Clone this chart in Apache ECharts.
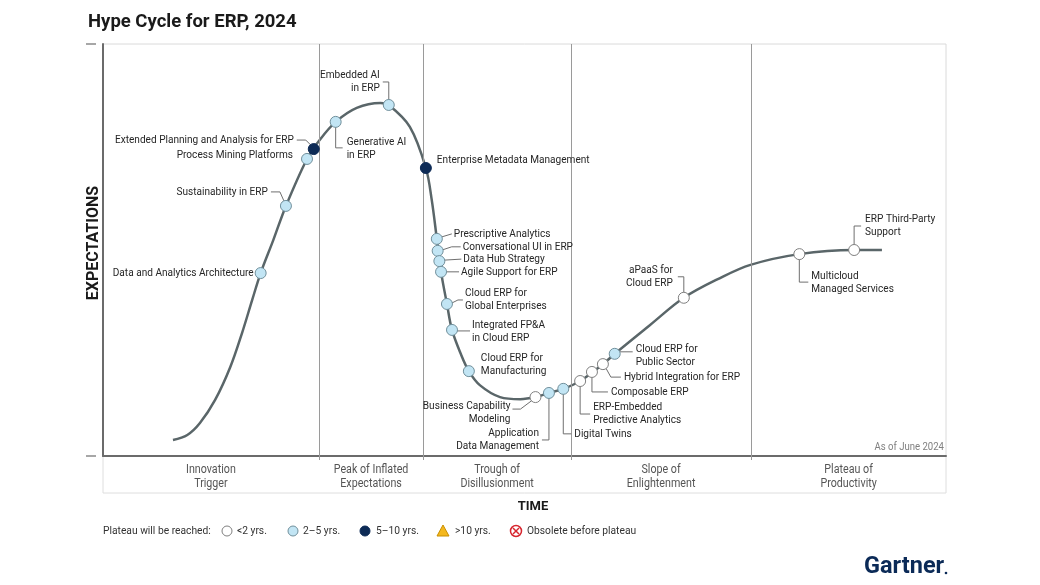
<!DOCTYPE html>
<html><head><meta charset="utf-8">
<script src="https://cdn.jsdelivr.net/npm/echarts@6/dist/echarts.min.js"></script>
<style>html,body{margin:0;padding:0;background:#fff}#c{width:1040px;height:585px}</style>
</head><body><div id="c"></div>
<script>
// ---------------- DATA ----------------
// Hype-cycle curve (x: time 0-100, y: expectations 0-100)
const curveX = [8.3, 10.0, 11.5, 13.3, 15.1, 16.5, 17.7, 18.7, 20.2, 21.7, 24.2, 25.7, 27.6, 30.1, 32.9, 33.9, 36.4, 38.3, 39.0, 39.6, 40.1, 40.8, 41.4, 42.4, 43.4, 44.7, 47.1, 49.5, 51.3, 52.9, 54.6, 56.6, 59.3, 60.7, 64.9, 68.9, 73.2, 76.8, 82.6, 89.1, 92.4];
const curveY = [3.9, 5.1, 8.0, 13.6, 21.6, 29.9, 37.9, 44.4, 52.4, 60.7, 72.1, 76.7, 81.1, 84.5, 85.7, 85.2, 79.9, 69.9, 62.1, 52.7, 44.7, 36.9, 30.6, 25.0, 20.6, 17.2, 14.3, 13.8, 14.3, 15.3, 16.3, 18.2, 22.3, 24.8, 31.8, 38.4, 43.2, 46.4, 49.0, 50.0, 50.0];

// Technologies on the curve
const techNames = [
  'Data and Analytics Architecture',
  'Sustainability in ERP',
  'Process Mining Platforms',
  'Extended Planning and Analysis for ERP',
  'Generative AI\nin ERP',
  'Embedded AI\nin ERP',
  'Enterprise Metadata Management',
  'Prescriptive Analytics',
  'Conversational UI in ERP',
  'Data Hub Strategy',
  'Agile Support for ERP',
  'Cloud ERP for\nGlobal Enterprises',
  'Integrated FP&A\nin Cloud ERP',
  'Cloud ERP for\nManufacturing',
  'Business Capability\nModeling',
  'Application\nData Management',
  'Digital Twins',
  'ERP-Embedded\nPredictive Analytics',
  'Composable ERP',
  'Hybrid Integration for ERP',
  'Cloud ERP for\nPublic Sector',
  'aPaaS for\nCloud ERP',
  'Multicloud\nManaged Services',
  'ERP Third-Party\nSupport'
];
const techX = [18.7, 21.7, 24.2, 25.0, 27.6, 33.9, 38.3, 39.6, 39.7, 39.9, 40.1, 40.8, 41.4, 43.4, 51.3, 52.9, 54.6, 56.6, 58.0, 59.3, 60.7, 68.9, 82.6, 89.1];
const techY = [44.4, 60.7, 72.1, 74.5, 81.1, 85.2, 69.9, 52.7, 49.8, 47.3, 44.7, 36.9, 30.6, 20.6, 14.3, 15.3, 16.3, 18.2, 20.4, 22.3, 24.8, 38.4, 49.0, 50.0];
// years to plateau: 'a' <2 yrs, 'b' 2-5 yrs, 'c' 5-10 yrs
const techPlateau = ['b','b','b','c','b','b','c','b','b','b','b','b','b','b','a','b','b','a','a','a','b','a','a','a'];

// Phases along the time axis
const phaseNames = ['Innovation\nTrigger', 'Peak of Inflated\nExpectations', 'Trough of\nDisillusionment', 'Slope of\nEnlightenment', 'Plateau of\nProductivity'];
const phaseBounds = [0, 25.6, 38.0, 55.5, 76.9, 100];

// Legend
const legendTitle = 'Plateau will be reached:';
const legendLabels = ['<2 yrs.', '2–5 yrs.', '5–10 yrs.', '>10 yrs.', 'Obsolete before plateau'];

// ---------------- LAYOUT (label offsets in px relative to each dot) ----------------
const labelLayout = [
  {tx:-7,  ty:0,   al:'right'},
  {tx:-18, ty:-14, al:'right', ln:[[-15,-14],[-6,-14],[-2,-5]]},
  {tx:-14, ty:-4,  al:'right'},
  {tx:-20, ty:-9,  al:'right', ln:[[-17,-9],[-8,-9],[-3,-4]]},
  {tx:11,  ty:27,  al:'left',  ln:[[0,5],[0,26],[7,26]]},
  {tx:-9,  ty:-23, al:'right', ln:[[0,-5],[0,-23],[-6,-23]]},
  {tx:11,  ty:-8,  al:'left'},
  {tx:17,  ty:-5,  al:'left',  ln:[[5,-2],[15,-5]]},
  {tx:25,  ty:-4,  al:'left',  ln:[[5,-1],[14,-4],[23,-4]]},
  {tx:24,  ty:-2,  al:'left',  ln:[[5,-1],[22,-2]]},
  {tx:20,  ty:0,   al:'left',  ln:[[5,0],[18,0]]},
  {tx:18,  ty:-4,  al:'left',  ln:[[5,-1],[11,-4],[16,-4]]},
  {tx:20,  ty:2,   al:'left',  ln:[[5,1],[18,1]]},
  {tx:12,  ty:-7,  al:'left'},
  {tx:-25, ty:16,  al:'right', ln:[[-3,3],[-15,12],[-23,12]]},
  {tx:-10, ty:47,  al:'right', ln:[[0,5],[0,47],[-7,47]]},
  {tx:11,  ty:45,  al:'left',  ln:[[0,5],[0,45],[8,45]]},
  {tx:13,  ty:33,  al:'left',  ln:[[0,5],[0,33],[10,33]]},
  {tx:19,  ty:20,  al:'left',  ln:[[0,5],[0,20],[16,20]]},
  {tx:21,  ty:13,  al:'left',  ln:[[3,4],[8,13],[18,13]]},
  {tx:21,  ty:2,   al:'left',  ln:[[5,-2],[18,-2]]},
  {tx:-11, ty:-21, al:'right', ln:[[0,-5],[0,-21],[-6,-21]]},
  {tx:12,  ty:28,  al:'left',  ln:[[0,5],[0,28],[9,28]]},
  {tx:11,  ty:-24, al:'left',  ln:[[0,-5],[0,-24],[7,-24]]}
];

const FONT = 'Roboto, sans-serif';
const SX = 0.87;   // horizontal condensing of small text
const dotStyle = {
  a: {fill:'#ffffff', stroke:'#808080'},
  b: {fill:'#c2e5f4', stroke:'#71909c'},
  c: {fill:'#0d2b56', stroke:'#0d2b56'}
};

const curveData = curveX.map((x, i) => [x, curveY[i]]);
const techData = techX.map((x, i) => [x, techY[i], i]);
const phaseMids = phaseNames.map((_, i) => (phaseBounds[i] + phaseBounds[i + 1]) / 2);
const phaseData = phaseMids.map((m, i) => [m, 0, i]);
const innerBounds = phaseBounds.slice(1, -1);

const chart = echarts.init(document.getElementById('c'), null, {renderer: 'canvas'});

const G = {left:103, top:44, right:946, bottom:456};
const txt = (t, x, y, extra) => Object.assign({type:'text', x:x, y:y, scaleX:SX, style:{text:t, x:0, y:0, align:'left', verticalAlign:'middle', fontSize:11.8, fontFamily:FONT, fill:'#333'}}, extra || {});
const lg = [];
lg.push(txt(legendTitle, 103, 531));
const lgIconX = [227, 293, 365, 443, 516];
const lgTextX = [237, 303, 376, 455, 527];
lg.push({type:'circle', shape:{cx:lgIconX[0], cy:531, r:5}, style:{fill:'#fff', stroke:'#808080', lineWidth:1}});
lg.push({type:'circle', shape:{cx:lgIconX[1], cy:531, r:5}, style:{fill:'#c2e5f4', stroke:'#71909c', lineWidth:1}});
lg.push({type:'circle', shape:{cx:lgIconX[2], cy:531, r:5}, style:{fill:'#0d2b56', stroke:'#0d2b56', lineWidth:1}});
lg.push({type:'polygon', shape:{points:[[lgIconX[3]-6,536],[lgIconX[3]+6,536],[lgIconX[3],525]]}, style:{fill:'#f4b81e', stroke:'#c98f00', lineWidth:1}});
lg.push({type:'circle', shape:{cx:lgIconX[4], cy:531, r:5.5}, style:{fill:'#fff', stroke:'#d7262f', lineWidth:1.5}});
lg.push({type:'line', shape:{x1:lgIconX[4]-3, y1:528, x2:lgIconX[4]+3, y2:534}, style:{stroke:'#d7262f', lineWidth:1.5}});
lg.push({type:'line', shape:{x1:lgIconX[4]+3, y1:528, x2:lgIconX[4]-3, y2:534}, style:{stroke:'#d7262f', lineWidth:1.5}});
legendLabels.forEach((t, i) => lg.push(txt(t, lgTextX[i], 531)));

const option = {
  backgroundColor: '#ffffff',
  animation: false,
  title: {
    text: 'Hype Cycle for ERP, 2024', left: 83, top: 8,
    textStyle: {fontSize: 18.5, fontWeight: 'bold', color: '#1a1a1a', fontFamily: 'Roboto, sans-serif'}
  },
  grid: {left: 103, right: 94, top: 44, bottom: 129, show: true, borderColor: '#dadada', borderWidth: 1},
  xAxis: {
    type: 'value', min: 0, max: 100,
    axisLine: {show: true, lineStyle: {color: '#6b6b6b', width: 2}},
    axisTick: {show: true, customValues: innerBounds, length: 4, lineStyle: {color: '#9a9a9a'}},
    splitLine: {show: false},
    axisLabel: {show: false}
  },
  yAxis: {
    type: 'value', min: 0, max: 100,
    axisLine: {show: true, lineStyle: {color: '#6b6b6b', width: 2}},
    axisTick: {show: false}, axisLabel: {show: false}, splitLine: {show: false}
  },
  series: [
    {
      type: 'line', data: curveData, smooth: 0.35, symbol: 'none', z: 2,
      lineStyle: {color: '#5a6669', width: 2.5},
      markLine: {
        silent: true, symbol: 'none', label: {show: false},
        lineStyle: {color: '#9a9a9a', width: 1, type: 'solid'},
        data: innerBounds.map(b => ({xAxis: b}))
      }
    },
    {
      type: 'custom', data: phaseData, z: 3, clip: false, silent: true,
      renderItem: (params, api) => {
        const p = api.coord([api.value(0), api.value(1)]);
        return {type: 'text', x: p[0], y: p[1] + 21, scaleX: SX,
          style: {text: phaseNames[api.value(2)], x: 0, y: 0, align: 'center', verticalAlign: 'middle', fontSize: 12.3, lineHeight: 14, fontFamily: FONT, fill: '#555'}};
      }
    },
    {
      type: 'custom', data: techData, z: 5,
      renderItem: (params, api) => {
        const i = api.value(2);
        const p = api.coord([api.value(0), api.value(1)]);
        const L = labelLayout[i];
        const st = dotStyle[techPlateau[i]];
        const ch = [];
        if (L.ln) ch.push({type: 'polyline', shape: {points: L.ln.map(o => [p[0] + o[0], p[1] + o[1]])}, style: {stroke: '#6f6f6f', lineWidth: 1, fill: null}});
        ch.push({type: 'text', x: p[0] + L.tx, y: p[1] + L.ty, scaleX: SX,
          style: {text: techNames[i], x: 0, y: 0, align: L.al, verticalAlign: 'middle', fontSize: 11.6, lineHeight: 13, fontFamily: FONT, fill: '#262626'}});
        ch.push({type: 'circle', shape: {cx: p[0], cy: p[1], r: 5.5}, style: {fill: st.fill, stroke: st.stroke, lineWidth: 1}});
        return {type: 'group', children: ch};
      }
    }
  ],
  graphic: [
    {type: 'rect', z: -1, shape: {x: G.left, y: G.bottom, width: G.right - G.left, height: 37}, style: {fill: 'none', stroke: '#dedede', lineWidth: 1}},
    {type: 'line', shape: {x1: 86, y1: 44, x2: 96, y2: 44}, style: {stroke: '#8a8a8a', lineWidth: 1.5}},
    {type: 'line', shape: {x1: 86, y1: 456, x2: 96, y2: 456}, style: {stroke: '#8a8a8a', lineWidth: 1.5}},
    {type: 'text', x: 94, y: 243, rotation: Math.PI / 2, style: {text: 'EXPECTATIONS', align: 'center', verticalAlign: 'middle', fontSize: 16, fontWeight: 'bold', fontFamily: 'Roboto, sans-serif', fill: '#1a1a1a'}},
    {type: 'text', x: 533, y: 507, style: {text: 'TIME', align: 'center', verticalAlign: 'middle', fontSize: 13, fontWeight: 'bold', fontFamily: 'Roboto, sans-serif', fill: '#1a1a1a'}},
    txt('As of June 2024', 944, 447, {style: {text: 'As of June 2024', x: 0, y: 0, align: 'right', verticalAlign: 'middle', fontSize: 11, fontFamily: FONT, fill: '#808080'}}),
    {type: 'text', x: 864, y: 567, style: {text: 'Gartner', align: 'left', verticalAlign: 'middle', fontSize: 23.5, fontWeight: 'bold', fontFamily: 'Roboto, sans-serif', fill: '#0b2a57'}},
    {type: 'circle', shape: {cx: 946, cy: 573, r: 1.3}, style: {fill: '#0b2a57'}},
    ...lg
  ]
};
chart.setOption(option);
</script>
</body></html>
